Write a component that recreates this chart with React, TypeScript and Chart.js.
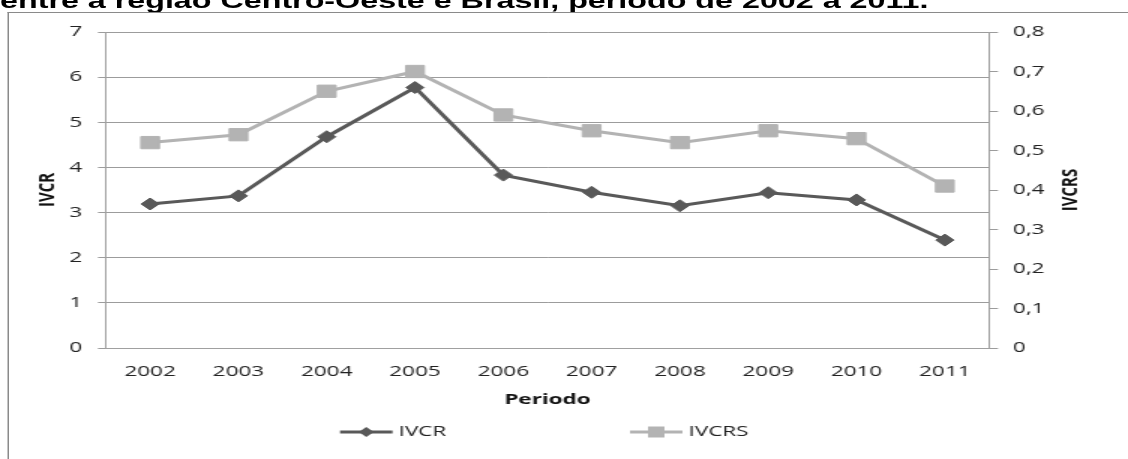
import React, { useEffect, useRef } from 'react';
import { Chart, registerables } from 'chart.js';

Chart.register(...registerables);

const TITLE = 'entre a região Centro-Oeste e Brasil, período de 2002 a 2011.';
const YEARS = ['2002', '2003', '2004', '2005', '2006', '2007', '2008', '2009', '2010', '2011'];
const IVCR = [3.19, 3.37, 4.68, 5.77, 3.83, 3.45, 3.15, 3.44, 3.28, 2.39];
const IVCRS = [0.52, 0.54, 0.65, 0.70, 0.59, 0.55, 0.52, 0.55, 0.53, 0.41];
const LEFT_MIN = 0;
const LEFT_MAX = 7;
const LEFT_STEP = 1;
const RIGHT_MIN = 0;
const RIGHT_MAX = 0.8;
const RIGHT_STEP = 0.1;
const X_TITLE = 'Periodo';
const Y_TITLE = 'IVCR';
const Y1_TITLE = 'IVCRS';
const SERIES_NAMES = ['IVCR', 'IVCRS'];

const SX = 1.5; // horizontal stretch of the original picture
const W = 1128 / SX;
const H = 459;

const C_DARK = '#595959';
const C_LIGHT = '#b3b3b3';
const C_GRID = '#9c9c9c';
const C_AXIS = '#a0a0a0';
const C_TEXT = '#222222';
const FONT = '"Open Sans", "DejaVu Sans", sans-serif';

const extrasPlugin = {
  id: 'extras',
  afterDraw(chart: any) {
    const ctx = chart.ctx as CanvasRenderingContext2D;
    const area = chart.chartArea;
    // right axis title (reads bottom-to-top like the left one)
    ctx.save();
    ctx.translate(713.3, (area.top + area.bottom) / 2);
    ctx.rotate(-Math.PI / 2);
    ctx.font = `bold 15px ${FONT}`;
    ctx.fillStyle = '#111';
    ctx.textAlign = 'center';
    ctx.textBaseline = 'middle';
    ctx.fillText(Y1_TITLE, 0, 0);
    ctx.restore();

    // legend
    const starts = [226.7, 420];
    const ly = 432;
    chart.data.datasets.forEach((ds: any, i: number) => {
      const x0 = starts[i];
      ctx.save();
      ctx.strokeStyle = ds.borderColor;
      ctx.lineWidth = 3;
      ctx.beginPath();
      ctx.moveTo(x0, ly);
      ctx.lineTo(x0 + 35, ly);
      ctx.stroke();
      const cx = x0 + 17.5;
      ctx.fillStyle = ds.borderColor;
      ctx.beginPath();
      if (ds.pointStyle === 'rectRot') {
        const r = 5;
        ctx.moveTo(cx - r, ly);
        ctx.lineTo(cx, ly - r);
        ctx.lineTo(cx + r, ly);
        ctx.lineTo(cx, ly + r);
        ctx.closePath();
      } else {
        const h = 5.5;
        ctx.rect(cx - h, ly - h, 2 * h, 2 * h);
      }
      ctx.fill();
      ctx.font = `15px ${FONT}`;
      ctx.fillStyle = C_TEXT;
      ctx.textAlign = 'left';
      ctx.textBaseline = 'middle';
      ctx.fillText(ds.label, x0 + 39, ly);
      ctx.restore();
    });
  },
};

export default function App() {
  const ref = useRef<HTMLCanvasElement | null>(null);

  useEffect(() => {
    if (!ref.current) return;
    const chart = new Chart(ref.current, {
      type: 'line',
      data: {
        labels: YEARS,
        datasets: [
          {
            label: SERIES_NAMES[0],
            data: IVCR,
            yAxisID: 'y',
            borderColor: C_DARK,
            backgroundColor: C_DARK,
            borderWidth: 3,
            pointStyle: 'rectRot',
            pointRadius: 6,
            pointBorderWidth: 1,
            pointBackgroundColor: C_DARK,
            pointBorderColor: C_DARK,
            tension: 0,
            order: 1,
          },
          {
            label: SERIES_NAMES[1],
            data: IVCRS,
            yAxisID: 'y1',
            borderColor: C_LIGHT,
            backgroundColor: C_LIGHT,
            borderWidth: 3,
            pointStyle: 'rect',
            pointRadius: 8.7,
            pointBorderWidth: 1,
            pointBackgroundColor: C_LIGHT,
            pointBorderColor: C_LIGHT,
            tension: 0,
            order: 2,
          },
        ],
      },
      options: {
        responsive: false,
        maintainAspectRatio: false,
        devicePixelRatio: 1,
        animation: false,
        events: [],
        layout: { padding: { left: 0, right: 0, top: 32, bottom: 48 } },
        plugins: {
          legend: { display: false },
          title: { display: false },
          tooltip: { enabled: false },
        },
        scales: {
          x: {
            type: 'category',
            offset: true,
            afterFit: (s: any) => { s.height = 63; },
            grid: { display: false, drawTicks: false },
            border: { display: true, color: C_AXIS, width: 1 },
            ticks: {
              padding: 14.5,
              color: C_TEXT,
              font: { family: FONT, size: 15 },
              maxRotation: 0,
              autoSkip: false,
            },
            title: {
              display: true,
              text: X_TITLE,
              color: '#111',
              font: { family: FONT, size: 15, weight: 'bold' },
              padding: { top: 0, bottom: 2.5 },
            },
          },
          y: {
            type: 'linear',
            position: 'left',
            min: LEFT_MIN,
            max: LEFT_MAX,
            afterFit: (s: any) => { s.width = 70.67; },
            grid: { color: C_GRID, lineWidth: 1, drawTicks: true, tickLength: 5.33, tickColor: C_GRID },
            border: { display: true, color: C_AXIS, width: 1 },
            ticks: {
              stepSize: LEFT_STEP,
              padding: 10.6,
              color: C_TEXT,
              font: { family: FONT, size: 15 },
            },
            title: {
              display: true,
              text: Y_TITLE,
              color: '#111',
              font: { family: FONT, size: 15, weight: 'bold' },
              padding: { top: 22.3, bottom: 0 },
            },
          },
          y1: {
            type: 'linear',
            position: 'right',
            min: RIGHT_MIN,
            max: RIGHT_MAX,
            afterFit: (s: any) => { s.width = W - 659.33; },
            grid: { drawOnChartArea: false, drawTicks: true, tickLength: 6, color: C_GRID, tickColor: C_GRID },
            border: { display: true, color: C_AXIS, width: 1 },
            ticks: {
              stepSize: RIGHT_STEP,
              padding: 10,
              color: C_TEXT,
              font: { family: FONT, size: 15 },
              callback: (v: any) => (Number(v) === 0 ? '0' : Number(v).toFixed(1).replace('.', ',')),
            },
          },
        },
      },
      plugins: [extrasPlugin],
    } as any);
    return () => chart.destroy();
  }, []);

  return (
    <div
      style={{
        position: 'fixed',
        left: 0,
        top: 0,
        width: 1128,
        height: 459,
        overflow: 'hidden',
        background: '#ffffff',
      }}
    >
      <div
        style={{
          position: 'absolute',
          left: 0,
          top: 0,
          width: W,
          height: H,
          transform: `scaleX(${SX})`,
          transformOrigin: '0 0',
        }}
      >
        <div
          style={{
            position: 'absolute',
            left: 0,
            top: -9.2,
            whiteSpace: 'nowrap',
            font: 'bold 21.5px "Liberation Sans", Arial, sans-serif',
            lineHeight: '21.5px',
            color: '#000',
          }}
        >
          {TITLE}
        </div>
        <div
          style={{
            position: 'absolute',
            left: 5,
            top: 12,
            width: 900,
            height: 600,
            background: '#ffffff',
            borderLeft: '1.4px solid #8a8a8a',
            borderTop: '1px solid #8a8a8a',
          }}
        />
        <canvas
          ref={ref}
          width={W}
          height={H}
          style={{ position: 'absolute', left: 0, top: 0, width: W, height: H, display: 'block' }}
        />
      </div>
    </div>
  );
}
